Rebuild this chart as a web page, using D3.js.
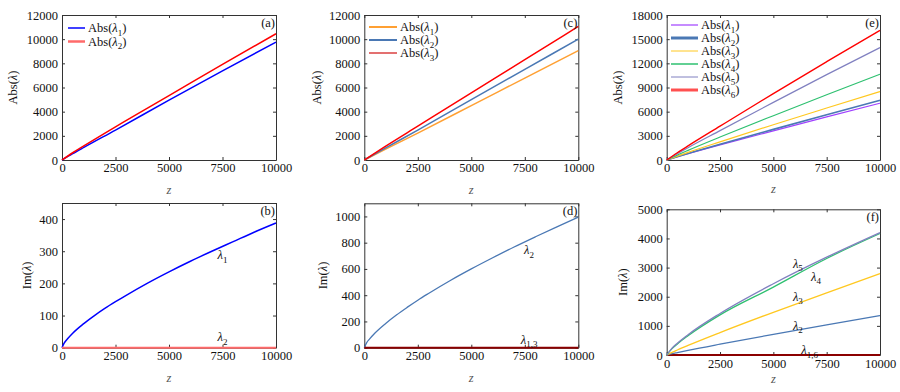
<!DOCTYPE html>
<html><head><meta charset="utf-8">
<script src="https://cdn.jsdelivr.net/npm/d3@7"></script>
<style>
html,body{margin:0;padding:0;background:#fff;}
svg{display:block;}
svg text{font-family:"Liberation Serif","Times New Roman",Tinos,Times,serif;}
</style></head>
<body><svg id="c" width="900" height="392"></svg>
<script>
// ---------- data ----------
const xTicks = [0, 2500, 5000, 7500, 10000];

// panel (a)
const zA = [0, 500, 1000, 2500, 5000, 7500, 10000];
const absA1 = [0, 520, 1020, 2480, 4950, 7380, 9750];
const absA2 = [0, 600, 1150, 2750, 5330, 7920, 10450];
const yTicksA = [0, 2000, 4000, 6000, 8000, 10000, 12000];

// panel (b)
const zB = [0, 100, 250, 500, 1000, 1500, 2000, 2500, 3000, 4000, 5000, 6000, 7000, 8000, 9000, 10000];
const imB1 = [0, 14, 27, 45, 74, 99, 122, 143, 163, 201, 236, 269, 300, 330, 360, 388];
const imB2 = [0, 0, 0, 0, 0, 0, 0, 0, 0, 0, 0, 0, 0, 0, 0, 0];
const yTicksB = [0, 100, 200, 300, 400];

// panel (c)
const zC = [0, 1000, 2500, 5000, 7500, 10000];
const absC1 = [0, 900, 2230, 4500, 6780, 9050];
const absC2 = [0, 1000, 2480, 5000, 7500, 10000];
const absC3 = [0, 1150, 2800, 5550, 8300, 11050];
const yTicksC = [0, 2000, 4000, 6000, 8000, 10000, 12000];

// panel (d)
const zD = [0, 100, 250, 500, 1000, 1500, 2000, 2500, 3000, 4000, 5000, 6000, 7000, 8000, 9000, 10000];
const imD2 = [0, 35, 67, 112, 185, 249, 307, 362, 413, 510, 600, 685, 767, 845, 921, 995];
const imD13 = [0, 0, 0, 0, 0, 0, 0, 0, 0, 0, 0, 0, 0, 0, 0, 0];
const yTicksD = [0, 200, 400, 600, 800, 1000];

// panel (e)
const zE = [0, 500, 1000, 2500, 5000, 7500, 10000];
const absE1 = [0, 400, 780, 1870, 3620, 5350, 7050];
const absE2 = [0, 420, 820, 1960, 3800, 5620, 7400];
const absE3 = [0, 480, 940, 2250, 4380, 6450, 8500];
const absE4 = [0, 620, 1200, 2850, 5500, 8100, 10650];
const absE5 = [0, 780, 1530, 3650, 7150, 10600, 13950];
const absE6 = [0, 900, 1750, 4200, 8250, 12200, 16100];
const yTicksE = [0, 3000, 6000, 9000, 12000, 15000, 18000];

// panel (f)
const zF = [0, 250, 500, 1000, 2500, 5000, 7500, 10000];
const imF16 = [0, 0, 0, 0, 0, 0, 0, 0];
const imF2 = [0, 44, 83, 159, 372, 709, 1033, 1350];
const imF3 = [0, 90, 172, 328, 769, 1465, 2135, 2790];
const imF4 = [0, 218, 380, 661, 1376, 2330, 3313, 4170];
const imF5 = [0, 237, 406, 697, 1425, 2445, 3356, 4200];
const yTicksF = [0, 1000, 2000, 3000, 4000, 5000];

// ---------- drawing ----------
const svg = d3.select("#c");
const FS = 12.5;
const FF = '"Liberation Serif","Times New Roman",Tinos,Times,serif';

function richText(g, x, y, sub, opts) {
  const t = g.append("text").attr("x", x).attr("y", y)
    .attr("font-size", FS).attr("font-family", FF).attr("fill", "#111")
    .attr("text-anchor", opts.anchor || "start");
  if (opts.prefix) t.append("tspan").text(opts.prefix);
  t.append("tspan").attr("font-style", "italic").text("λ");
  if (sub) t.append("tspan").attr("font-size", 9).attr("dy", 3.5).text(sub);
  if (opts.suffix) t.append("tspan").attr("dy", sub ? -3.5 : 0).text(opts.suffix);
  return t;
}

function panel(cfg) {
  const g = svg.append("g");
  const x = d3.scaleLinear().domain([0, 10000]).range([cfg.x0, cfg.x1]);
  const y = d3.scaleLinear().domain([0, cfg.ymax]).range([cfg.y1, cfg.y0]);

  const bottom = d3.axisBottom(x).tickValues(xTicks).tickFormat(d3.format("d"))
    .tickSizeInner(-3).tickSizeOuter(0).tickPadding(cfg.xpad || 3);
  const top = d3.axisTop(x).tickValues(xTicks).tickFormat("")
    .tickSizeInner(-3).tickSizeOuter(0);
  const left = d3.axisLeft(y).tickValues(cfg.yTicks).tickFormat(d3.format("d"))
    .tickSizeInner(-3).tickSizeOuter(0).tickPadding(4);
  const right = d3.axisRight(y).tickValues(cfg.yTicks).tickFormat("")
    .tickSizeInner(-3).tickSizeOuter(0);

  const ax = [
    g.append("g").attr("transform", `translate(0,${cfg.y1})`).call(bottom),
    g.append("g").attr("transform", `translate(0,${cfg.y0})`).call(top),
    g.append("g").attr("transform", `translate(${cfg.x0},0)`).call(left),
    g.append("g").attr("transform", `translate(${cfg.x1},0)`).call(right)
  ];
  ax.forEach(a => {
    a.attr("font-family", FF);
    a.selectAll("path.domain").attr("stroke", "#333");
    a.selectAll(".tick line").attr("stroke", "#333");
    a.selectAll("text").attr("font-size", FS).attr("fill", "#111").attr("font-family", FF);
  });

  const line = d3.line().x(d => x(d[0])).y(d => y(d[1])).curve(d3.curveMonotoneX);
  cfg.series.forEach(s => {
    g.append("path").datum(s.z.map((z, i) => [z, s.v[i]]))
      .attr("d", line).attr("fill", "none")
      .attr("stroke", s.color).attr("stroke-width", s.w || 1.3);
  });

  g.append("text").attr("x", (cfg.x0 + cfg.x1) / 2).attr("y", cfg.zy)
    .attr("text-anchor", "middle").attr("font-size", FS).attr("font-style", "italic")
    .attr("font-family", FF).attr("fill", "#555").text("z");
  const yl = g.append("text").attr("transform", `translate(${cfg.ylx},${(cfg.y0 + cfg.y1) / 2}) rotate(-90)`)
    .attr("text-anchor", "middle").attr("font-size", FS).attr("font-family", FF).attr("fill", "#111");
  yl.append("tspan").text(cfg.ylab + "(");
  yl.append("tspan").attr("font-style", "italic").text("λ");
  yl.append("tspan").text(")");

  g.append("text").attr("x", cfg.x1 - 1).attr("y", cfg.y0 + 12)
    .attr("text-anchor", "end").attr("font-size", FS).attr("font-family", FF)
    .attr("fill", "#111").text(cfg.tag);

  if (cfg.legend) {
    cfg.legend.forEach((s, i) => {
      const ly = cfg.legY + i * cfg.legDy;
      g.append("line").attr("x1", cfg.legX).attr("x2", cfg.legX + cfg.legLen)
        .attr("y1", ly).attr("y2", ly).attr("stroke", s.color).attr("stroke-width", s.lw || 1.5);
      richText(g, cfg.legX + cfg.legLen + 3, ly + 4, s.sub, {prefix: "Abs(", suffix: ")"});
    });
  }
  if (cfg.labels) {
    cfg.labels.forEach(l => {
      richText(g, x(l.z), y(l.v), l.sub, {anchor: "middle"});
    });
  }
}

const blue = "#0000ff", red = "#ff0000", pink = "#ff6a6a";
const orange = "#ffa033", steel = "#4a78b4", darkred = "#8b0000";
const purple = "#a040ff", yellow = "#ffc820", green = "#2ec070", lav = "#8080c0";

panel({x0: 62, x1: 276, y0: 15, y1: 160, ymax: 12000, yTicks: yTicksA, tag: "(a)",
  ylab: "Abs", ylx: 17, zy: 194,
  series: [{z: zA, v: absA1, color: blue, w: 1.5}, {z: zA, v: absA2, color: red, w: 1.5}],
  legend: [{sub: "1", color: blue}, {sub: "2", color: pink, lw: 2.5}],
  legX: 68, legY: 28, legDy: 13.5, legLen: 17});

panel({x0: 62, x1: 276, y0: 203, y1: 347.7, ymax: 450, yTicks: yTicksB, tag: "(b)",
  ylab: "Im", ylx: 31, zy: 382,
  series: [{z: zB, v: imB1, color: blue, w: 1.5}, {z: zB, v: imB2, color: pink, w: 2}],
  labels: [{z: 7500, v: 275, sub: "1"}, {z: 7500, v: 20, sub: "2"}]});

panel({x0: 364.3, x1: 578.3, y0: 15, y1: 160, ymax: 12000, yTicks: yTicksC, tag: "(c)",
  ylab: "Abs", ylx: 321, zy: 194,
  series: [{z: zC, v: absC1, color: orange, w: 1.5}, {z: zC, v: absC2, color: steel, w: 1.5}, {z: zC, v: absC3, color: red, w: 1.5}],
  legend: [{sub: "1", color: orange, lw: 2}, {sub: "2", color: steel, lw: 2}, {sub: "3", color: "#d01010", lw: 1.2}],
  legX: 369, legY: 27, legDy: 13, legLen: 28});

panel({x0: 364.3, x1: 578.3, y0: 203.3, y1: 347.7, ymax: 1100, yTicks: yTicksD, tag: "(d)",
  ylab: "Im", ylx: 327, zy: 382,
  series: [{z: zD, v: imD2, color: steel, w: 1.3}, {z: zD, v: imD13, color: darkred, w: 2}],
  labels: [{z: 7700, v: 710, sub: "2"}, {z: 7700, v: 30, sub: "1,3"}]});

panel({x0: 666.7, x1: 880, y0: 15, y1: 160, ymax: 18000, yTicks: yTicksE, tag: "(e)",
  ylab: "Abs", ylx: 622, zy: 193,
  series: [{z: zE, v: absE1, color: purple, w: 1.2}, {z: zE, v: absE2, color: steel, w: 1.6},
           {z: zE, v: absE3, color: yellow, w: 1.2}, {z: zE, v: absE4, color: green, w: 1.2},
           {z: zE, v: absE5, color: lav, w: 1.2}, {z: zE, v: absE6, color: red, w: 1.4}],
  legend: [{sub: "1", color: purple, lw: 1.2}, {sub: "2", color: steel, lw: 3},
           {sub: "3", color: yellow, lw: 1}, {sub: "4", color: green, lw: 1.5},
           {sub: "5", color: lav, lw: 1}, {sub: "6", color: "#ff5050", lw: 3}],
  legX: 671, legY: 25, legDy: 13, legLen: 27});

panel({x0: 666.7, x1: 880, y0: 209.3, y1: 355, ymax: 5000, yTicks: yTicksF, tag: "(f)",
  ylab: "Im", ylx: 627, zy: 383, xpad: 4,
  series: [{z: zF, v: imF16, color: darkred, w: 2}, {z: zF, v: imF2, color: steel, w: 1.3},
           {z: zF, v: imF3, color: yellow, w: 1.3}, {z: zF, v: imF4, color: green, w: 1.3},
           {z: zF, v: imF5, color: lav, w: 1.3}],
  labels: [{z: 6150, v: 3000, sub: "5"}, {z: 7000, v: 2550, sub: "4"}, {z: 6150, v: 1870, sub: "3"},
           {z: 6150, v: 870, sub: "2"}, {z: 6700, v: 30, sub: "1,6"}]});
</script></body></html>
